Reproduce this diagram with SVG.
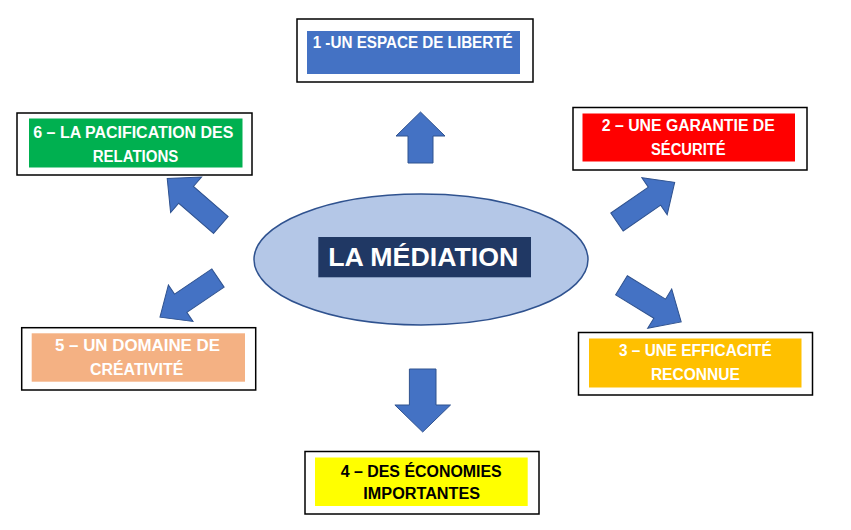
<svg xmlns="http://www.w3.org/2000/svg" width="851" height="530" viewBox="0 0 851 530">
<style>
.frame{fill:#FFFFFF;stroke:#000000;stroke-width:1.5}
.lbl{font-family:"Liberation Sans",Arial,sans-serif;font-weight:bold;font-size:16px;text-anchor:middle}
.w{fill:#FFFFFF}
.k{fill:#000000}
.arrow{fill:#4472C4;stroke:#2F528F;stroke-width:1}
</style>
<rect width="851" height="530" fill="#FFFFFF"/>
<g id="center">
<ellipse cx="421" cy="259.5" rx="167" ry="65.5" fill="#B4C7E7" stroke="#2F528F" stroke-width="1.5"/>
<rect x="318.3" y="237" width="212.7" height="40.3" fill="#203864"/>
<text x="423.3" y="266.3" class="lbl w" style="font-size:26px" textLength="190" lengthAdjust="spacingAndGlyphs">LA MÉDIATION</text>
</g>
<g id="node1">
<rect class="frame" x="297" y="19" width="236" height="63"/>
<rect x="307" y="31" width="213" height="43" fill="#4472C4"/>
<text class="lbl w" x="412.7" y="48" textLength="200" lengthAdjust="spacingAndGlyphs">1 -UN ESPACE DE LIBERTÉ</text>
</g>
<g id="node2">
<rect class="frame" x="573" y="107.5" width="234" height="62.5"/>
<rect x="582.5" y="113.5" width="212.5" height="48" fill="#FF0000"/>
<text class="lbl w" x="688.3" y="130.7" textLength="173" lengthAdjust="spacingAndGlyphs">2 – UNE GARANTIE DE</text>
<text class="lbl w" x="688.3" y="155" textLength="74.7" lengthAdjust="spacingAndGlyphs">SÉCURITÉ</text>
</g>
<g id="node3">
<rect class="frame" x="578.5" y="332.5" width="234" height="62.5"/>
<rect x="589" y="338.5" width="212.5" height="49" fill="#FFC000"/>
<text class="lbl w" x="695.4" y="356" textLength="152.7" lengthAdjust="spacingAndGlyphs">3 – UNE EFFICACITÉ</text>
<text class="lbl w" x="695.4" y="380" textLength="89" lengthAdjust="spacingAndGlyphs">RECONNUE</text>
</g>
<g id="node4">
<rect class="frame" x="305" y="451.5" width="234" height="62.5"/>
<rect x="315" y="457.5" width="212.7" height="48.5" fill="#FFFF00"/>
<text class="lbl k" x="421.2" y="476.7" textLength="161" lengthAdjust="spacingAndGlyphs">4 – DES ÉCONOMIES</text>
<text class="lbl k" x="421.7" y="499" textLength="116.7" lengthAdjust="spacingAndGlyphs">IMPORTANTES</text>
</g>
<g id="node5">
<rect class="frame" x="21.7" y="327.7" width="234" height="62.3"/>
<rect x="31.7" y="333.3" width="213.3" height="48.4" fill="#F4B183"/>
<text class="lbl w" x="137.5" y="351" textLength="165" lengthAdjust="spacingAndGlyphs">5 – UN DOMAINE DE</text>
<text class="lbl w" x="136.7" y="375" textLength="93.3" lengthAdjust="spacingAndGlyphs">CRÉATIVITÉ</text>
</g>
<g id="node6">
<rect class="frame" x="17" y="113" width="235" height="62"/>
<rect x="29" y="118.5" width="213.5" height="49" fill="#00B050"/>
<text class="lbl w" x="133.3" y="138.3" textLength="200" lengthAdjust="spacingAndGlyphs">6 – LA PACIFICATION DES</text>
<text class="lbl w" x="135.5" y="161.7" textLength="85.7" lengthAdjust="spacingAndGlyphs">RELATIONS</text>
</g>
<g id="connectors">
<polygon class="arrow" transform="translate(420.5,163) rotate(-90)" points="0,-12.5 27,-12.5 27,-24.5 51,0 27,24.5 27,12.5 0,12.5"/>
<polygon class="arrow" transform="translate(617,222) rotate(-34.5)" points="0,-10.9 45.5,-10.9 45.5,-22.4 70,0 45.5,22.4 45.5,10.9 0,10.9"/>
<polygon class="arrow" transform="translate(621.5,285.3) rotate(31.5)" points="0,-11.2 44.8,-11.2 44.8,-23 70,0 44.8,23 44.8,11.2 0,11.2"/>
<polygon class="arrow" transform="translate(422.7,369) rotate(90)" points="0,-13.3 36,-13.3 36,-27.8 63,0 36,27.8 36,13.3 0,13.3"/>
<polygon class="arrow" transform="translate(218,278) rotate(146)" points="0,-11 45,-11 45,-22 70,0 45,22 45,11 0,11"/>
<polygon class="arrow" transform="translate(220.8,225) rotate(221)" points="0,-11.2 46,-11.2 46,-23.6 71,0 46,23.6 46,11.2 0,11.2"/>
</g>
</svg>
